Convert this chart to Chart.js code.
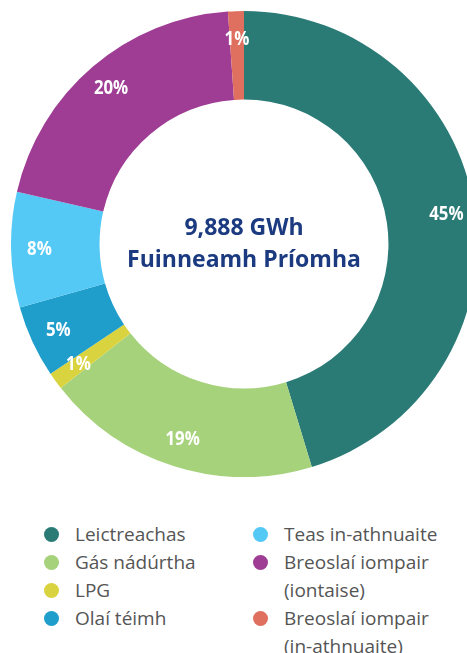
<!DOCTYPE html>
<html>
<head>
<meta charset="utf-8">
<script src="https://cdn.jsdelivr.net/npm/chart.js@4"></script>
<style>
    html, body { margin: 0; padding: 0; background: #fff; overflow: hidden; width: 467px; height: 653px; }
    #wrap { position: absolute; left: 11px; top: 11px; }
    #legend { position: absolute; left: 44px; top: 520px; width: 423px; font-family: "Open Sans", sans-serif; font-size: 19px; color: #555; }
    .col { position: absolute; top: 0; }
    .item { position: relative; padding-left: 31px; line-height: 28px; }
    .dot { position: absolute; left: 0; top: 7px; width: 15px; height: 15px; border-radius: 50%; }
</style>
</head>
<body>
<div id="wrap"><canvas id="donut" width="466" height="466"></canvas></div>
<div id="legend"></div>
<script>
// values (share of primary energy, %)
var categories = [
    'Leictreachas',
    'Gás nádúrtha',
    'LPG',
    'Olaí téimh',
    'Teas in-athnuaite',
    'Breoslaí iompair (iontaise)',
    'Breoslaí iompair (in-athnuaite)'
];
var shares = [45.3, 19.1, 1.2, 5.0, 8.0, 20.3, 1.1];
var colours = ['#2a7a76', '#a7d27c', '#d9d33f', '#1f9dcb', '#54c9f5', '#9f3d94', '#df6f5f'];
var centreLines = ['9,888 GWh', 'Fuinneamh Príomha'];

// white percentage labels inside the ring (squeezed a bit, the original font is condensed)
var sliceLabels = {
    id: 'sliceLabels',
    afterDatasetsDraw: function(chart) {
        var ctx = chart.ctx;
        var meta = chart.getDatasetMeta(0);
        meta.data.forEach(function(arc, i) {
            var p = arc.getProps(['x', 'y', 'startAngle', 'endAngle', 'innerRadius', 'outerRadius'], true);
            var mid = (p.startAngle + p.endAngle) / 2;
            var r = p.innerRadius + 0.68 * (p.outerRadius - p.innerRadius);
            ctx.save();
            ctx.translate(p.x + Math.cos(mid) * r, p.y + Math.sin(mid) * r);
            ctx.scale(0.84, 1);
            ctx.fillStyle = '#fff';
            ctx.font = 'bold 20px "Open Sans", sans-serif';
            ctx.textAlign = 'center';
            ctx.textBaseline = 'middle';
            ctx.fillText(Math.round(shares[i]) + '%', 0, 0);
            ctx.restore();
        });
    }
};

var centreText = {
    id: 'centreText',
    afterDraw: function(chart) {
        var ctx = chart.ctx;
        var arc = chart.getDatasetMeta(0).data[0];
        ctx.save();
        ctx.fillStyle = '#1b3a80';
        ctx.font = 'bold 23px "Open Sans", sans-serif';
        ctx.textAlign = 'center';
        ctx.textBaseline = 'middle';
        ctx.fillText(centreLines[0], arc.x, arc.y - 16);
        ctx.fillText(centreLines[1], arc.x, arc.y + 16);
        ctx.restore();
    }
};

var chart = new Chart(document.getElementById('donut'), {
    type: 'doughnut',
    data: {
        labels: categories,
        datasets: [{
            data: shares,
            backgroundColor: colours,
            borderWidth: 0
        }]
    },
    options: {
        responsive: false,
        animation: false,
        cutout: '62%',
        layout: { padding: 0 },
        plugins: {
            legend: { display: false },
            tooltip: { enabled: false }
        }
    },
    plugins: [sliceLabels, centreText]
});

// legend in two columns, built from the same arrays
var legendRows = [
    [0, 1, 2, 3],
    [4, 5, 6]
];
var colLeft = [0, 209];
var legend = document.getElementById('legend');
legendRows.forEach(function(rows, c) {
    var col = document.createElement('div');
    col.className = 'col';
    col.style.left = colLeft[c] + 'px';
    rows.forEach(function(i) {
        var item = document.createElement('div');
        item.className = 'item';
        var dot = document.createElement('span');
        dot.className = 'dot';
        dot.style.background = colours[i];
        item.appendChild(dot);
        var name = categories[i];
        var cut = name.indexOf(' (');
        if (cut > 0) {
            item.appendChild(document.createTextNode(name.slice(0, cut)));
            item.appendChild(document.createElement('br'));
            item.appendChild(document.createTextNode(name.slice(cut + 1)));
        } else {
            item.appendChild(document.createTextNode(name));
        }
        col.appendChild(item);
    });
    legend.appendChild(col);
});
</script>
</body>
</html>
